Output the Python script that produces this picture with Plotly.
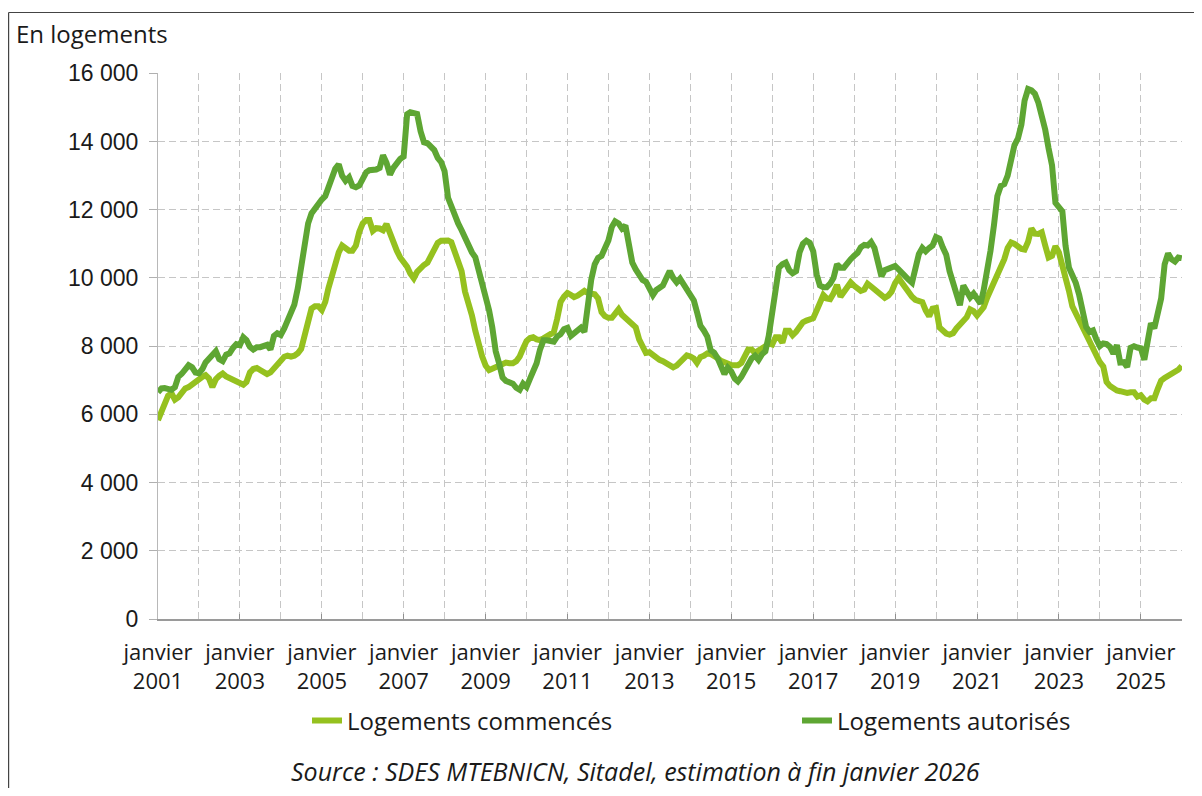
import pandas as pd
import plotly.graph_objects as go

# Monthly categories: January 2001 to January 2026
mois = pd.date_range("2001-01-01", "2026-01-01", freq="MS")

# Logements commencés (monthly)
commences = [
    # 2001
    5830, 6100, 6270, 6550, 6620, 6430, 6500, 6620, 6760, 6800, 6880, 6980,
    # 2002
    7040, 7100, 7150, 7050, 6800, 7030, 7130, 7200, 7110, 7060, 7020, 6950,
    # 2003
    6900, 6870, 6950, 7230, 7330, 7360, 7300, 7250, 7180, 7230, 7350, 7450,
    # 2004
    7600, 7690, 7720, 7690, 7720, 7790, 7920, 8340, 8820, 9100, 9170, 9170,
    # 2005
    9060, 9300, 9700, 10100, 10450, 10750, 10950, 10850, 10800, 10800, 10950, 11350,
    # 2006
    11600, 11700, 11700, 11380, 11460, 11450, 11400, 11580, 11280, 11050, 10800, 10600,
    # 2007
    10480, 10330, 10130, 9990, 10180, 10300, 10380, 10450, 10650, 10850, 11030, 11090,
    # 2008
    11100, 11100, 11050, 10800, 10450, 10200, 9600, 9300, 8900, 8450, 8000, 7700,
    # 2009
    7430, 7300, 7340, 7390, 7450, 7520, 7520, 7500, 7500, 7560, 7700, 7930,
    # 2010
    8150, 8240, 8260, 8200, 8180, 8230, 8300, 8360, 8410, 8800, 9300, 9450,
    # 2011
    9560, 9500, 9440, 9480, 9560, 9620, 9560, 9550, 9520, 9400, 9000, 8880,
    # 2012
    8830, 8830, 8980, 9080, 8920, 8820, 8730, 8670, 8550, 8200, 7940, 7800,
    # 2013
    7820, 7740, 7640, 7600, 7560, 7510, 7450, 7380, 7430, 7550, 7660, 7730,
    # 2014
    7700, 7640, 7510, 7680, 7720, 7790, 7770, 7730, 7650, 7570, 7520, 7500,
    # 2015
    7450, 7440, 7440, 7510, 7700, 7900, 7900, 7800, 7870, 7920, 8000, 8090,
    # 2016
    8050, 8260, 8260, 8100, 8450, 8450, 8320, 8420, 8560, 8700, 8750, 8790,
    # 2017
    8820, 9050, 9300, 9500, 9400, 9380, 9550, 9800, 9450, 9600, 9760, 9870,
    # 2018
    9770, 9700, 9620, 9660, 9830, 9750, 9660, 9570, 9500, 9420, 9480, 9600,
    # 2019
    9850, 10000, 9870, 9700, 9560, 9450, 9360, 9320, 9290, 9050, 8880, 9100,
    # 2020
    9120, 8550, 8460, 8370, 8340, 8380, 8520, 8620, 8710, 8850, 9080, 9030,
    # 2021
    8900, 9020, 9140, 9420, 9640, 9860, 10020, 10230, 10550, 10880, 11040, 11000,
    # 2022
    10900, 10850, 10830, 11060, 11450, 11300, 11290, 11340, 10950, 10600, 10650, 10930,
    # 2023
    10750, 10400, 10050, 9620, 9170, 8970, 8760, 8570, 8360, 8180, 7960, 7700,
    # 2024
    7530, 7400, 6950, 6830, 6750, 6700, 6680, 6650, 6630, 6650, 6650, 6520,
    # 2025
    6560, 6430, 6380, 6470, 6470, 6750, 6990, 7070, 7130, 7180, 7240, 7310,
    # 2026
    7420,
]

# Logements autorisés (monthly)
autorises = [
    # 2001
    6650, 6760, 6770, 6750, 6720, 6800, 7100, 7190, 7320, 7440, 7380, 7230,
    # 2002
    7210, 7330, 7520, 7620, 7700, 7850, 7620, 7560, 7750, 7790, 7950, 8060,
    # 2003
    8030, 8260, 8180, 7980, 7900, 7970, 7970, 8030, 8040, 7900, 8300, 8380,
    # 2004
    8330, 8520, 8740, 8980, 9220, 9700, 10400, 11030, 11600, 11890, 12050, 12220,
    # 2005
    12300, 12400, 12620, 12970, 13200, 13330, 13000, 12850, 12950, 12700, 12660, 12710,
    # 2006
    12950, 13100, 13160, 13160, 13180, 13230, 13600, 13380, 13030, 13230, 13400, 13490,
    # 2007
    13560, 14800, 14860, 14850, 14810, 14300, 13980, 13950, 13870, 13750, 13520, 13400,
    # 2008
    13130, 12350, 12110, 11780, 11600, 11400, 11170, 10950, 10750, 10610, 10230, 9800,
    # 2009
    9400, 9050, 8560, 7850, 7500, 7080, 6980, 6930, 6900, 6780, 6720, 6900,
    # 2010
    6800, 7050, 7250, 7500, 7900, 8170, 8170, 8150, 8130, 8280, 8350, 8500,
    # 2011
    8540, 8300, 8380, 8470, 8540, 8420, 9200, 9950, 10400, 10590, 10650, 10850,
    # 2012
    11100, 11500, 11660, 11600, 11450, 11540, 10880, 10450, 10250, 10080, 9940, 9890,
    # 2013
    9720, 9500, 9640, 9730, 9780, 10000, 10200, 10000, 9870, 9980, 9800, 9680,
    # 2014
    9460, 9340, 9000, 8600, 8460, 8280, 7880, 7810, 7650, 7450, 7180, 7370,
    # 2015
    7260, 7050, 6970, 7100, 7270, 7450, 7640, 7720, 7600, 7760, 7850, 8300,
    # 2016
    9000, 9730, 10300, 10400, 10450, 10230, 10140, 10200, 10750, 11000, 11090, 11030,
    # 2017
    10780, 10100, 9780, 9730, 9730, 9830, 10000, 10400, 10300, 10300, 10450, 10550,
    # 2018
    10650, 10740, 10900, 10970, 10950, 11050, 10880, 10520, 10050, 10230, 10280, 10290,
    # 2019
    10350, 10250, 10140, 10040, 9950, 9860, 10200, 10700, 10880, 10780, 10880, 10950,
    # 2020
    11200, 11150, 10900, 10680, 10200, 9870, 9640, 9200, 9780, 9600, 9430, 9540,
    # 2021
    9350, 9250, 9640, 10150, 10800, 11550, 12400, 12700, 12750, 13000, 13500, 13900,
    # 2022
    14090, 14500, 15200, 15540, 15500, 15400, 15150, 14800, 14350, 13800, 13300, 12200,
    # 2023
    12040, 11950, 10950, 10300, 10080, 9850, 9500, 8900, 8560, 8420, 8460, 8200,
    # 2024
    8000, 8080, 8060, 7980, 7780, 8030, 7520, 7530, 7390, 7950, 8000, 7960,
    # 2025
    7940, 7600, 8130, 8670, 8520, 8950, 9400, 10400, 10720, 10550, 10480, 10600,
    # 2026
    10580,
]

annees_labels = [2001, 2003, 2005, 2007, 2009, 2011, 2013, 2015, 2017, 2019, 2021, 2023, 2025]
y_ticks = [0, 2000, 4000, 6000, 8000, 10000, 12000, 14000, 16000]

COL_COMM = "#95C11F"
COL_AUTO = "#5EA633"
GRID = "#c6c6c6"
TXT = "#1a1a1a"
DASH = "7px,4px"

# The page body adds an 8 px margin; size the figure so no scrollbar appears
# and work in page pixels below.
OFF = 8
W, H = 1202 - 2 * OFF, 796 - 2 * OFF
PL, PR, PT, PB = 158, 1182, 73, 619          # plot area in page pixels
pw, ph = PR - PL, PB - PT
L, T = PL - OFF, PT - OFF
R, B = W - L - pw, H - T - ph

def px(xp):
    return (xp - PL) / pw

def py(yp):
    return (PB - yp) / ph

fig = go.Figure()
fig.add_trace(go.Scatter(x=mois, y=commences, mode="lines", name="Logements commencés",
                         line=dict(color=COL_COMM, width=6), legend="legend"))
fig.add_trace(go.Scatter(x=mois, y=autorises, mode="lines", name="Logements autorisés",
                         line=dict(color=COL_AUTO, width=6), legend="legend2"))

leg_font = dict(family="Open Sans", size=24, color=TXT)

fig.update_layout(
    width=W, height=H,
    margin=dict(l=L, r=R, t=T, b=B, autoexpand=False),
    paper_bgcolor="white", plot_bgcolor="white",
    separators=", ",
    showlegend=True,
    legend=dict(orientation="h", x=px(307), xanchor="left", y=py(721), yanchor="middle",
                font=leg_font, bgcolor="rgba(0,0,0,0)"),
    legend2=dict(orientation="h", x=px(797), xanchor="left", y=py(721), yanchor="middle",
                 font=leg_font, bgcolor="rgba(0,0,0,0)"),
    xaxis=dict(
        type="date",
        range=["2001-01-01", "2026-01-03"],
        tickvals=[f"{a}-01-01" for a in annees_labels],
        ticktext=[f"janvier<br>{a}" for a in annees_labels],
        tickfont=dict(family="Open Sans", size=22, color=TXT),
        ticks="inside", ticklen=5, tickcolor="#909090",
        ticklabelstandoff=13,
        showline=True, linecolor="#9a9a9a", linewidth=1.5,
        showgrid=True, gridcolor=GRID, griddash=DASH, gridwidth=1,
        minor=dict(dtick="M12", tick0="2001-01-01", showgrid=True,
                   gridcolor=GRID, griddash=DASH, gridwidth=1, ticks=""),
        zeroline=False,
    ),
    yaxis=dict(
        range=[0, 16010],
        tickvals=y_ticks,
        tickformat=",d",
        tickfont=dict(family="Liberation Sans", size=23, color=TXT),
        ticks="outside", ticklen=8, tickcolor="#b0b0b0",
        ticklabelstandoff=6,
        showline=True, linecolor="#b8b8b8", linewidth=1,
        showgrid=True, gridcolor=GRID, griddash=DASH, gridwidth=1,
        zeroline=False,
    ),
    annotations=[
        dict(text="En logements", xref="paper", yref="paper", x=px(14), y=py(33),
             xanchor="left", yanchor="middle", showarrow=False,
             font=dict(family="Open Sans", size=24, color=TXT)),
        dict(text="<i>Source : SDES MTEBNICN, Sitadel, estimation à fin janvier 2026</i>",
             xref="paper", yref="paper", x=px(635), y=py(771),
             xanchor="center", yanchor="middle", showarrow=False,
             font=dict(family="Open Sans", size=25, color=TXT)),
    ],
    shapes=[
        dict(type="line", xref="paper", yref="paper",
             x0=px(8.6), x1=px(1202), y0=py(12.5), y1=py(12.5),
             line=dict(color="#444444", width=1.2), layer="below"),
        dict(type="line", xref="paper", yref="paper",
             x0=px(8.6), x1=px(8.6), y0=py(12.5), y1=py(796),
             line=dict(color="#444444", width=1.2), layer="below"),
    ],
)

fig.write_html("out.html")
